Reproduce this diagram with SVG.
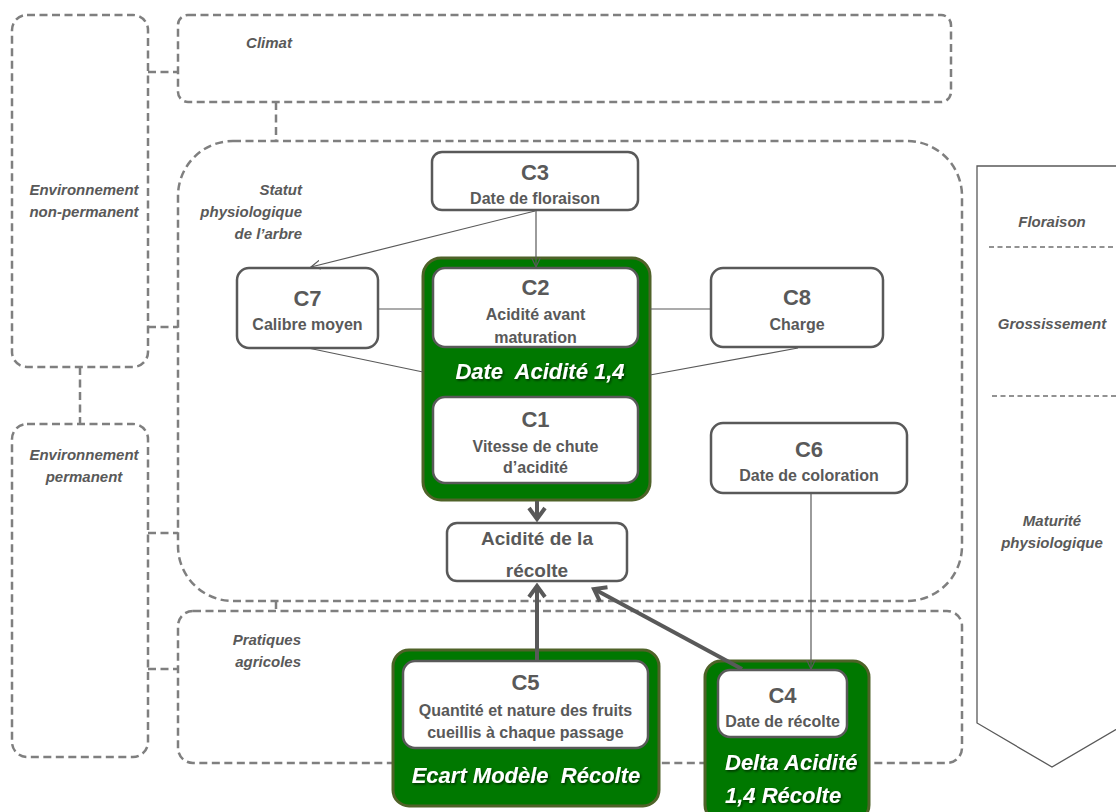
<svg xmlns="http://www.w3.org/2000/svg" width="1116" height="812" viewBox="0 0 1116 812">
<defs>
<style>
.zone{fill:none;stroke:#7f7f7f;stroke-width:2.5;stroke-dasharray:8 4.5}
.lab{font-family:"Liberation Sans",Arial,sans-serif;font-style:italic;font-weight:bold;font-size:15px;fill:#595959}
.box{fill:#fff;stroke:#595959;stroke-width:2.5}
.green{fill:#007800;stroke:#4f6228;stroke-width:3}
.cid{font-family:"Liberation Sans",Arial,sans-serif;font-weight:bold;font-size:22px;fill:#595959;text-anchor:middle}
.sub{font-family:"Liberation Sans",Arial,sans-serif;font-weight:bold;font-size:16px;fill:#595959;text-anchor:middle}
.big{font-family:"Liberation Sans",Arial,sans-serif;font-weight:bold;font-size:19px;fill:#595959;text-anchor:middle}
.wt{font-family:"Liberation Sans",Arial,sans-serif;font-style:italic;font-weight:bold;font-size:22px;fill:#fff;filter:url(#sh);white-space:pre}
.thin{stroke:#595959;stroke-width:1.2;fill:none}
.thick{stroke:#595959;stroke-width:4;fill:none}
.phase{stroke:#262626;stroke-width:1.2;stroke-dasharray:5 3.5;fill:none}
</style>
<filter id="sh" x="-10%" y="-30%" width="120%" height="160%">
<feDropShadow dx="1.2" dy="1.5" stdDeviation="0.8" flood-color="#000" flood-opacity="0.6"/>
</filter>
<marker id="ah" markerUnits="userSpaceOnUse" viewBox="0 0 10 10" refX="9.5" refY="5" markerWidth="10" markerHeight="10" orient="auto">
<path d="M0,0.5 L9.5,5 L0,9.5" fill="none" stroke="#595959" stroke-width="1.2"/>
</marker>
<marker id="ahb" markerUnits="userSpaceOnUse" viewBox="0 0 16 20" refX="13" refY="10" markerWidth="16" markerHeight="20" orient="auto">
<path d="M2,2 L13,10 L2,18" fill="none" stroke="#595959" stroke-width="4"/>
</marker>
</defs>

<g id="zones">
<g id="env-non-permanent">
<rect class="zone" x="12" y="15" width="136" height="352" rx="15"/>
<text class="lab" text-anchor="middle"><tspan x="84" y="195">Environnement</tspan><tspan x="84" y="217">non-permanent</tspan></text>
</g>
<g id="env-permanent">
<rect class="zone" x="12" y="424" width="136" height="333" rx="15"/>
<text class="lab" text-anchor="middle"><tspan x="84" y="460">Environnement</tspan><tspan x="84" y="482">permanent</tspan></text>
</g>
<g id="climat">
<rect class="zone" x="178" y="15" width="773" height="87" rx="10"/>
<text class="lab" x="269" y="48" text-anchor="middle">Climat</text>
</g>
<g id="statut">
<rect class="zone" x="178" y="141" width="784" height="460" rx="55"/>
<text class="lab" text-anchor="end"><tspan x="302" y="195">Statut</tspan><tspan x="302" y="217">physiologique</tspan><tspan x="302" y="239">de l’arbre</tspan></text>
</g>
<g id="pratiques">
<rect class="zone" x="178" y="611" width="784" height="152" rx="15"/>
<text class="lab" text-anchor="end"><tspan x="301" y="645">Pratiques</tspan><tspan x="301" y="667">agricoles</tspan></text>
</g>
</g>

<g id="zone-links">
<path class="zone" d="M80,367 V424"/>
<path class="zone" d="M148,72 H178"/>
<path class="zone" d="M276,102 V141"/>
<path class="zone" d="M148,327 H178"/>
<path class="zone" d="M148,533 H178"/>
<path class="zone" d="M148,669 H178"/>
<path class="zone" d="M276,601 V611"/>
</g>

<g id="phases">
<polygon points="977,166 1127,166 1127,723 1052,767 977,723" fill="none" stroke="#595959" stroke-width="1.3"/>
<path class="phase" d="M989,247 H1116"/>
<path class="phase" d="M992,396 H1116"/>
<text class="lab" x="1052" y="227" text-anchor="middle">Floraison</text>
<text class="lab" x="1052" y="329" text-anchor="middle">Grossissement</text>
<text class="lab" text-anchor="middle"><tspan x="1052" y="526">Maturité</tspan><tspan x="1052" y="548">physiologique</tspan></text>
</g>

<g id="nodes">
<g id="C3">
<rect class="box" x="432" y="152" width="206" height="58" rx="10"/>
<text class="cid" x="535" y="180">C3</text>
<text class="sub" x="535" y="204">Date de floraison</text>
</g>
<g id="C7">
<rect class="box" x="237" y="268" width="141" height="80" rx="12"/>
<text class="cid" x="307.5" y="306">C7</text>
<text class="sub" x="307.5" y="330">Calibre moyen</text>
</g>
<g id="date-acidite">
<rect class="green" x="423" y="258" width="227" height="242" rx="18"/>
<text class="wt" x="540" y="379" text-anchor="middle">Date  Acidité 1,4</text>
</g>
<g id="C2">
<rect class="box" x="433" y="268" width="205" height="79" rx="12"/>
<text class="cid" x="535.5" y="295">C2</text>
<text class="sub" x="535.5" y="320">Acidité avant</text>
<text class="sub" x="535.5" y="343">maturation</text>
</g>
<g id="C1">
<rect class="box" x="433" y="397" width="205" height="86" rx="12"/>
<text class="cid" x="535.5" y="427">C1</text>
<text class="sub" x="535.5" y="452">Vitesse de chute</text>
<text class="sub" x="535.5" y="473">d’acidité</text>
</g>
<g id="C8">
<rect class="box" x="711" y="268" width="172" height="79" rx="12"/>
<text class="cid" x="797" y="305">C8</text>
<text class="sub" x="797" y="330">Charge</text>
</g>
<g id="C6">
<rect class="box" x="711" y="423" width="196" height="70" rx="12"/>
<text class="cid" x="809" y="457">C6</text>
<text class="sub" x="809" y="481">Date de coloration</text>
</g>
<g id="acidite-recolte">
<rect class="box" x="447" y="523" width="180" height="58" rx="10"/>
<text class="big" x="537" y="545">Acidité de la</text>
<text class="big" x="537" y="577">récolte</text>
</g>
<g id="ecart-modele">
<rect class="green" x="393" y="650" width="266" height="156" rx="16"/>
<text class="wt" x="526" y="783" text-anchor="middle">Ecart Modèle  Récolte</text>
</g>
<g id="C5">
<rect class="box" x="403" y="661" width="245" height="87" rx="12"/>
<text class="cid" x="525.5" y="690">C5</text>
<text class="sub" x="525.5" y="716">Quantité et nature des fruits</text>
<text class="sub" x="525.5" y="738">cueillis à chaque passage</text>
</g>
<g id="delta-acidite">
<rect class="green" x="705" y="661" width="164" height="160" rx="16"/>
<text class="wt" x="725" y="770">Delta Acidité</text>
<text class="wt" x="725" y="803">1,4 Récolte</text>
</g>
<g id="C4">
<rect class="box" x="718" y="670" width="129" height="67" rx="12"/>
<text class="cid" x="782.5" y="703">C4</text>
<text class="sub" x="782.5" y="727">Date de récolte</text>
</g>
</g>

<g id="connectors">
<line class="thin" x1="535" y1="211" x2="311" y2="267" marker-end="url(#ah)"/>
<line class="thin" x1="536" y1="211" x2="536" y2="267" marker-end="url(#ah)"/>
<line class="thin" x1="378" y1="309" x2="423" y2="309"/>
<line class="thin" x1="308" y1="348" x2="423" y2="372"/>
<line class="thin" x1="650" y1="309" x2="711" y2="309"/>
<line class="thin" x1="798" y1="348" x2="650" y2="375"/>
<line class="thin" x1="811" y1="494" x2="811" y2="669" marker-end="url(#ah)"/>
<line class="thick" x1="537" y1="501" x2="537" y2="519" marker-end="url(#ahb)"/>
<line class="thick" x1="537" y1="661" x2="537" y2="586" marker-end="url(#ahb)"/>
<line class="thick" x1="742" y1="669" x2="594" y2="589" marker-end="url(#ahb)"/>
</g>
</svg>
